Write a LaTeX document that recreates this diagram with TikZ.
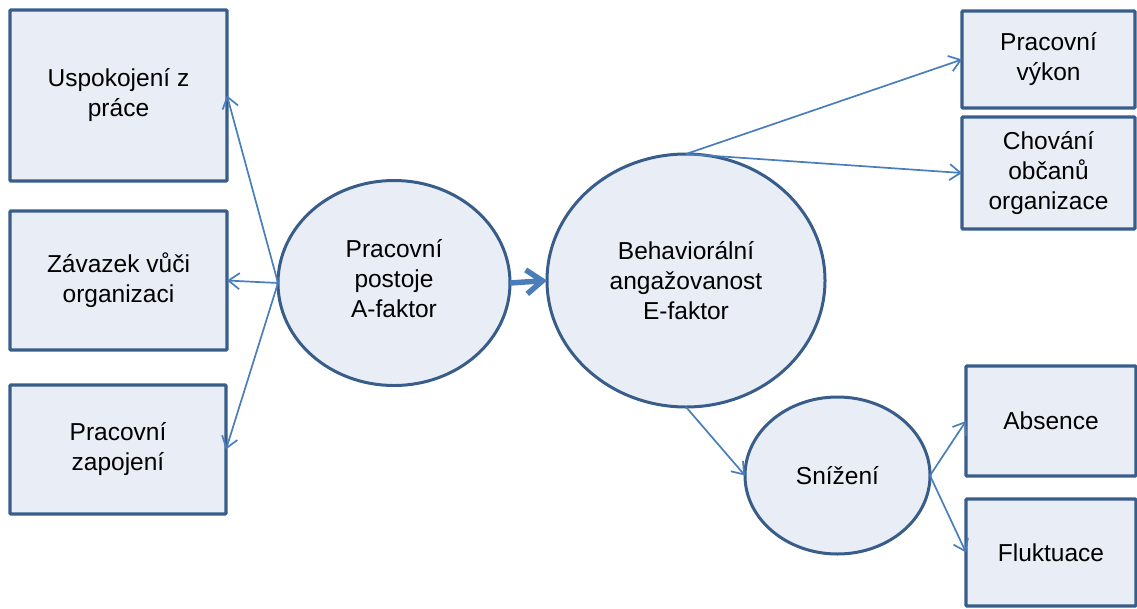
\documentclass[tikz,border=0pt]{standalone}
\usepackage{fontspec}
\setmainfont{Liberation Sans}
\usetikzlibrary{arrows.meta,shapes.geometric}
\definecolor{boxfill}{HTML}{E9EDF5}
\definecolor{boxline}{HTML}{385D8A}
\definecolor{linkcol}{HTML}{4A7EBB}

\begin{document}
\begin{tikzpicture}[x=1pt,y=-1pt,
  every node/.style={font=\fontsize{24.5}{30}\selectfont, align=center,
    inner sep=0pt, outer sep=0pt},
  factorbox/.style={rectangle, draw=boxline, fill=boxfill, line width=3.4pt,
    rounded corners=1pt},
  factoroval/.style={ellipse, draw=boxline, fill=boxfill, line width=3pt},
  link/.style={draw=linkcol, line width=1.7pt,
    -{Straight Barb[length=11pt, width=16pt]}},
  mainlink/.style={draw=linkcol, line width=5.5pt,
    -{Straight Barb[length=16pt, width=24pt]}}]

  % canvas
  \useasboundingbox (0,0) rectangle (1137,608);

  % left column: outcomes of the A-factor
  \node[factorbox, minimum width=217pt, minimum height=171pt] (b1) at (118.5,95.5)
    {Uspokojení z\\práce};
  \node[factorbox, minimum width=217pt, minimum height=139pt] (b2) at (118.5,280.5)
    {Závazek vůči\\organizaci};
  \node[factorbox, minimum width=216pt, minimum height=129pt] (b3) at (118,449.5)
    {Pracovní\\zapojení};

  % central factors
  \node[factoroval, minimum width=232pt, minimum height=205pt] (c1) at (394,283)
    {Pracovní\\postoje\\A-faktor\\[-20pt]};
  \node[factoroval, minimum width=278pt, minimum height=253pt] (c2) at (686,280.5)
    {Behaviorální\\angažovanost\\E-faktor};
  \node[factoroval, minimum width=185pt, minimum height=157pt] (sn) at (837.5,475.5)
    {Snížení};

  % right column: outcomes of the E-factor
  \node[factorbox, minimum width=173pt, minimum height=97pt] (r1) at (1048.5,59.5)
    {Pracovní\\výkon};
  \node[factorbox, minimum width=173pt, minimum height=112pt] (r2) at (1048.5,173)
    {Chování\\občanů\\organizace};
  \node[factorbox, minimum width=170pt, minimum height=110pt] (r3) at (1051,421)
    {Absence};
  \node[factorbox, minimum width=170pt, minimum height=107pt] (r4) at (1051,552.5)
    {Fluktuace};

  % connectors
  \draw[link] (c1.west) -- (b1.east);
  \draw[link] (c1.west) -- (b2.east);
  \draw[link] (c1.west) -- (b3.east);
  \draw[mainlink] (c1.east) -- (c2.west);
  \draw[link] (c2.north) -- (r1.west);
  \draw[link] (c2.north) -- (r2.west);
  \draw[link] (c2.south) -- (sn.west);
  \draw[link] (sn.east) -- (r3.west);
  \draw[link] (sn.east) -- (r4.west);
\end{tikzpicture}
\end{document}
